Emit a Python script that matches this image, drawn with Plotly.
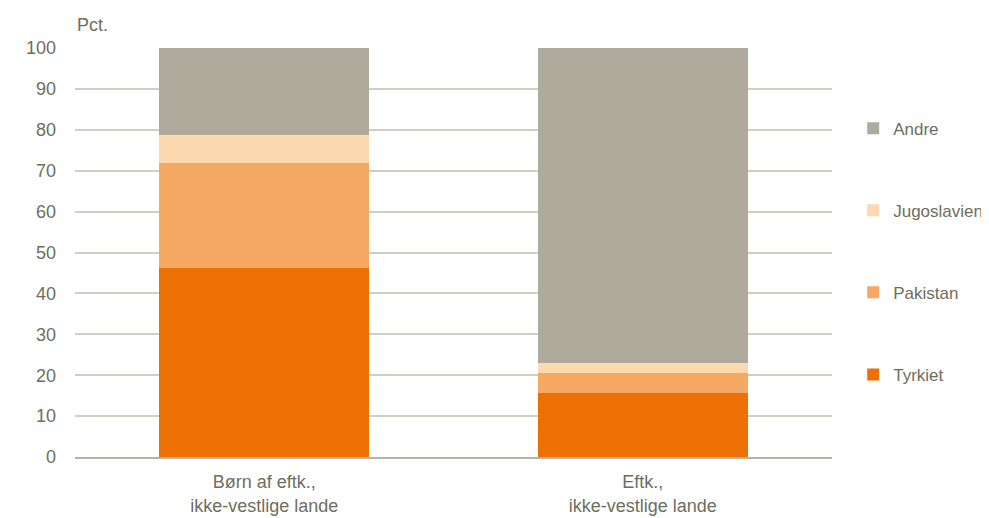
import plotly.graph_objects as go

categories = ["Børn af eftk.,<br>ikke-vestlige lande", "Eftk.,<br>ikke-vestlige lande"]
series_names = ["Tyrkiet", "Pakistan", "Jugoslavien", "Andre"]
tyrkiet = [46.3, 15.7]
pakistan = [25.7, 4.8]
jugoslavien = [6.8, 2.6]
andre = [21.2, 76.9]
colors = ["#EC7004", "#F5A962", "#FCD9AF", "#AEAB9D"]

values = [tyrkiet, pakistan, jugoslavien, andre]
txt = "#6E6E60"

fig = go.Figure()
for i, (name, vals, col) in enumerate(zip(series_names, values, colors)):
    fig.add_trace(go.Bar(x=categories, y=vals, name=name, marker=dict(color=col, line=dict(width=0)),
                         legendgroup=name, legendrank=1000 - i))

fig.update_layout(
    barmode="stack",
    bargap=0.445,
    width=989, height=518,
    margin=dict(l=67, r=165, t=40, b=69, autoexpand=False),
    plot_bgcolor="white", paper_bgcolor="white",
    font=dict(family="Liberation Sans, Arial, sans-serif", size=18, color=txt),
    legend=dict(x=1.028, y=0.847, xanchor="left", yanchor="top", traceorder="grouped",
                tracegroupgap=57, font=dict(size=17, color=txt), itemwidth=30),
    yaxis=dict(range=[0, 100], dtick=10, showgrid=True, gridcolor="#CFCFC4", gridwidth=1.5,
               zeroline=False, ticks="", ticklabelstandoff=18, tickfont=dict(size=18, color=txt)),
    xaxis=dict(showline=True, linecolor="#B5B3A6", linewidth=1.5, ticks="", ticklabelstandoff=8,
               tickfont=dict(size=18, color=txt)),
    annotations=[dict(text="Pct.", xref="paper", yref="paper", x=0, y=1, xanchor="left",
                      yanchor="bottom", yshift=11, showarrow=False, font=dict(size=18, color=txt))],
)

fig.write_html("out.html")
